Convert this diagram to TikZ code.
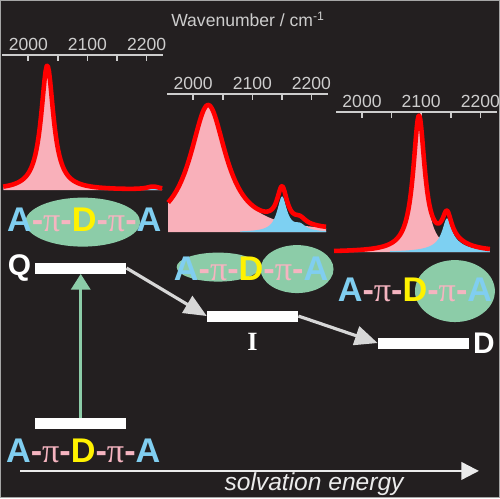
\documentclass[tikz,border=0pt]{standalone}
\usepackage{fontspec}
\setmainfont{Liberation Sans}
\setsansfont{Liberation Sans}
\newfontfamily\pifont{Liberation Serif}
\usepackage{xcolor}
\usetikzlibrary{shapes, arrows.meta, positioning, calc}

\definecolor{bgdark}{RGB}{35,31,32}
\definecolor{acol}{RGB}{128,206,240}
\definecolor{picol}{RGB}{245,180,192}
\definecolor{dcol}{RGB}{255,242,0}
\definecolor{blobgreen}{RGB}{140,204,168}
\definecolor{pinkfill}{RGB}{249,176,186}
\definecolor{bluefill}{RGB}{125,208,242}
\definecolor{axisgrey}{RGB}{205,205,205}
\definecolor{arrowgrey}{RGB}{215,215,215}

\newcommand{\chain}{\textcolor{acol}{A}\textcolor{picol}{-{\pifont\mdseries π}-}\textcolor{dcol}{D}\textcolor{picol}{-{\pifont\mdseries π}-}\textcolor{acol}{A}}

\begin{document}
\begin{tikzpicture}[x=0.02cm, y=-0.02cm,
        declare function={lor(\p,\c,\w)=1/(1+((\p-\c)/\w)^2);},
        level/.style={rectangle, fill=white, minimum width=1.82cm, minimum height=0.22cm, inner sep=0pt},
        lvllabel/.style={font=\sffamily\bfseries\fontsize{17}{19}\selectfont, text=white, inner sep=0pt},
        chain/.style={font=\sffamily\bfseries\fontsize{19.5}{22}\selectfont, inner sep=0pt},
        blob/.style={ellipse, fill=blobgreen, inner sep=0pt},
        ticklabel/.style={font=\sffamily\fontsize{10}{12}\selectfont, text=axisgrey, inner sep=0pt},
        axisline/.style={draw=axisgrey, line width=0.9pt},
        redline/.style={draw=red, line width=2.6pt, line join=round},
        hop/.style={draw=arrowgrey, line width=1.8pt, -{Triangle[length=13pt, width=11pt]}},
        excite/.style={draw=blobgreen, line width=1.6pt, -{Triangle[length=9pt, width=11pt]}},
        energyaxis/.style={draw=white!92!black, line width=1.3pt, -{Triangle[length=10pt, width=10pt]}}]

        % background
        \fill[bgdark] (0,0) rectangle (500,498);
        \draw[gray!70, line width=0.8pt] (0.4,0.4) rectangle (499.4,497.6);

        \node[ticklabel] (wn) at (248,19) {Wavenumber / cm\textsuperscript{-1}};

        % axes
        \foreach \ax/\ay in {28/55, 193/94, 362/112} {
            \draw[axisline] (\ax-26,\ay) -- (\ax+135,\ay);
            \foreach \t in {0,...,4}
                \draw[axisline] (\ax+29.6*\t,\ay) -- ++(0,6);
            \foreach \v/\t in {2000/0, 2100/2, 2200/4}
                \node[ticklabel] (lab\ax-\v) at (\ax+29.6*\t,\ay-11) {\v};
        }

        % spectrum Q
        \fill[pinkfill] (3,190) -- plot[domain=3:162, samples=140] (\x,{190-125*lor(\x,47,7.5)}) -- (162,190) -- cycle;
        \fill[bluefill] (130,190) -- plot[domain=130:162, samples=40] (\x,{190-3*lor(\x,153,8)}) -- (162,190) -- cycle;
        \draw[redline] plot[domain=3:162, samples=140] (\x,{190-125*lor(\x,47,7.5)-3*lor(\x,153,8)});

        % spectrum I
        \fill[pinkfill] (168,232) -- plot[domain=168:326, samples=140] (\x,{232-127*lor(\x,208,22)}) -- (326,232) -- cycle;
        \fill[bluefill] (240,232) -- plot[domain=240:326, samples=120] (\x,{232-35*lor(\x,282,6)-6*lor(\x,300,7)}) -- (326,232) -- cycle;
        \draw[redline] plot[domain=168:326, samples=160] (\x,{232-127*lor(\x,208,22)-35*lor(\x,282,6)-6*lor(\x,300,7)});

        % spectrum D
        \fill[pinkfill] (334,252) -- plot[domain=334:490, samples=160] (\x,{252-134*lor(\x,419,7)}) -- (490,252) -- cycle;
        \fill[bluefill] (390,252) -- plot[domain=390:490, samples=120] (\x,{252-26*lor(\x,447,5.5)-8*lor(\x,450,18)}) -- (490,252) -- cycle;
        \draw[redline] plot[domain=334:490, samples=180] (\x,{252-134*lor(\x,419,7)-26*lor(\x,447,5.5)-8*lor(\x,450,18)});

        % localisation blobs
        \node[blob, minimum width=2.3cm, minimum height=0.98cm] (ov1) at (82.5,222) {};
        \node[blob, minimum width=1.66cm, minimum height=0.58cm] (ov2a) at (218,267) {};
        \node[blob, minimum width=1.46cm, minimum height=0.96cm] (ov2b) at (297,269) {};
        \node[blob, minimum width=1.6cm, minimum height=1.24cm] (ov3) at (455,291) {};

        \node[chain] (ch1) at (84,220) {\chain};
        \node[chain] (ch2) at (251,269) {\chain};
        \node[chain] (ch3) at (415,290) {\chain};
        \node[chain] (ch0) at (83,451) {\chain};

        % levels
        \node[level] (Qlevel) at (80.5,268) {};
        \node[level] (Ilevel) at (252.5,316) {};
        \node[level] (Dlevel) at (423.5,343) {};
        \node[level] (Glevel) at (80.5,424) {};

        \node[lvllabel, left=0.07cm of Qlevel] (Qlab) {Q};
        \node[lvllabel, right=0.07cm of Dlevel] (Dlab) {D};
        \node[lvllabel, font=\pifont\bfseries\fontsize{15}{17}\selectfont, below=0.22cm of Ilevel] (Ilab) {I};

        % Paths
        \draw[excite] (Glevel.north) -- (Glevel.north |- Qlevel.south);
        \draw[hop] (Qlevel.east) -- (Ilevel.west);
        \draw[hop] (Ilevel.east) -- (Dlevel.west);

        \coordinate (e0) at (20,471);
        \coordinate (e1) at (479,471);
        \draw[energyaxis] (e0) -- (e1);
        \node[font=\sffamily\itshape\fontsize{14}{16}\selectfont, text=white!92!black, inner sep=0pt] (elab) at (314,484) {solvation energy};

\end{tikzpicture}
\end{document}
